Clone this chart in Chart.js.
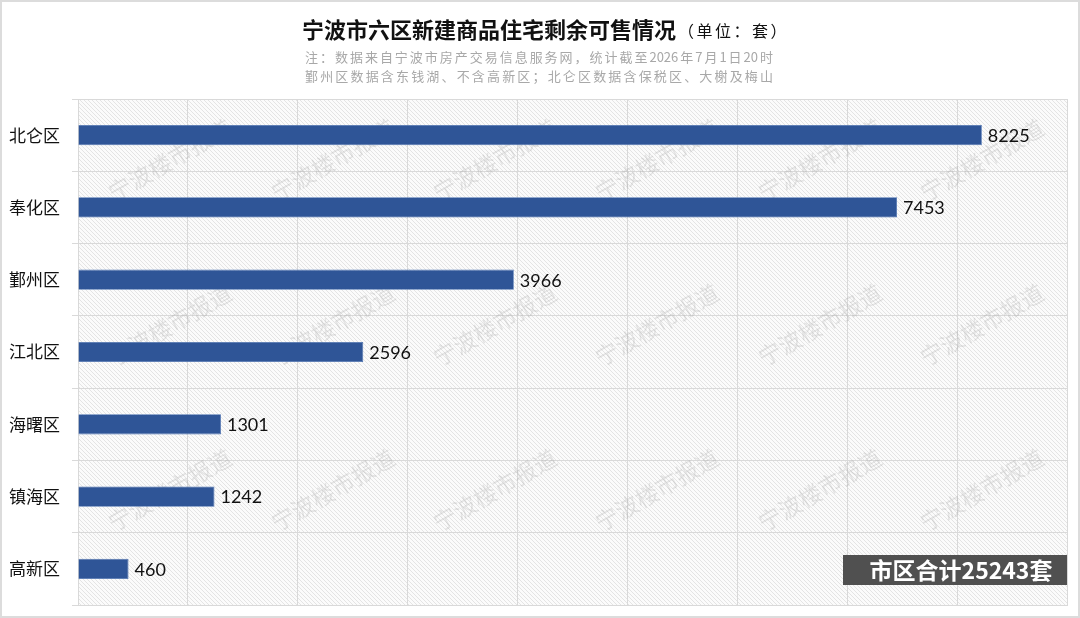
<!DOCTYPE html>
<html>
<head>
<meta charset="utf-8">
<script src="https://cdn.jsdelivr.net/npm/chart.js@4/dist/chart.umd.min.js"></script>
<style>
  html, body { margin: 0; padding: 0; background: #fff; }
  #wrap { position: relative; width: 1080px; height: 618px; }
  #chart { position: absolute; left: 0; top: 0; }
  .title { position: absolute; left: 302px; top: 12px; font-family: "Noto Sans CJK SC", sans-serif; font-weight: bold; font-size: 22px; color: #111; white-space: nowrap; }
  .title span { font-weight: normal; font-size: 16px; letter-spacing: 2.5px; margin-left: 2px; position: relative; top: -1px; }
  .note { position: absolute; left: 305px; width: 468px; font-family: "Noto Sans CJK SC", sans-serif; font-size: 13px; color: #a8a8a8; white-space: nowrap; text-align: justify; text-align-last: justify; text-justify: inter-character; }
</style>
</head>
<body>
<div id="wrap">
  <canvas id="chart" width="1080" height="618"></canvas>
  <div class="title">宁波市六区新建商品住宅剩余可售情况<span>（单位：套）</span></div>
  <div class="note" style="top:47px">注：数据来自宁波市房产交易信息服务网，统计截至2026年7月1日20时</div>
  <div class="note" style="top:66px">鄞州区数据含东钱湖、不含高新区；北仑区数据含保税区、大榭及梅山</div>
</div>
<script>
const districts = ['北仑区', '奉化区', '鄞州区', '江北区', '海曙区', '镇海区', '高新区'];
const unsold = [8225, 7453, 3966, 2596, 1301, 1242, 460];
const xMax = 9000;
const xStep = 1000;
const watermark = '宁波楼市报道';

function hatch() {
  const c = document.createElement('canvas');
  c.width = 4; c.height = 4;
  const g = c.getContext('2d');
  g.fillStyle = '#fbfbfb';
  g.fillRect(0, 0, 4, 4);
  g.strokeStyle = '#e4e4e4';
  g.lineWidth = 1;
  g.beginPath();
  g.moveTo(-1, -1); g.lineTo(5, 5);
  g.moveTo(-1, 3); g.lineTo(1, 5);
  g.moveTo(3, -1); g.lineTo(5, 1);
  g.stroke();
  return c;
}

const backdrop = {
  id: 'backdrop',
  beforeDraw(chart) {
    const { ctx, chartArea: a } = chart;
    ctx.save();
    ctx.fillStyle = '#fff';
    ctx.fillRect(0, 0, chart.width, chart.height);
    ctx.fillStyle = ctx.createPattern(hatch(), 'repeat');
    ctx.fillRect(a.left, a.top, a.right - a.left, a.bottom - a.top);
    ctx.restore();
  },
  beforeDatasetsDraw(chart) {
    const ctx = chart.ctx;
    ctx.save();
    ctx.font = '23px "Noto Sans CJK SC"';
    ctx.fillStyle = 'rgba(140,140,140,0.2)';
    ctx.textAlign = 'center';
    ctx.textBaseline = 'middle';
    [160, 325, 490].forEach(y => {
      [170, 333, 495, 657, 820, 982].forEach(x => {
        ctx.save();
        ctx.translate(x, y);
        ctx.rotate(-Math.PI / 6);
        ctx.fillText(watermark, 0, 0);
        ctx.restore();
      });
    });
    ctx.restore();
  },
  afterDatasetsDraw(chart) {
    const ctx = chart.ctx;
    const meta = chart.getDatasetMeta(0);
    ctx.save();
    ctx.font = '18px Lato, "Noto Sans"';
    ctx.fillStyle = '#111';
    ctx.textAlign = 'left';
    ctx.textBaseline = 'middle';
    meta.data.forEach((bar, i) => {
      ctx.fillText(unsold[i], bar.x + 6, bar.y + 1);
    });
    ctx.restore();
  },
  afterDraw(chart) {
    const ctx = chart.ctx;
    const total = unsold.reduce((s, v) => s + v, 0);
    ctx.save();
    ctx.fillStyle = '#505050';
    ctx.fillRect(843, 555, 224, 30);
    ctx.fillStyle = '#fff';
    ctx.font = 'bold 23px "Noto Sans CJK SC"';
    ctx.textAlign = 'center';
    ctx.textBaseline = 'middle';
    ctx.fillText('市区合计' + total + '套', 961, 570);
    ctx.strokeStyle = '#dcdcdc';
    ctx.lineWidth = 2;
    ctx.strokeRect(1, 1, chart.width - 2, chart.height - 2);
    ctx.restore();
  }
};

new Chart(document.getElementById('chart'), {
  type: 'bar',
  data: {
    labels: districts,
    datasets: [{
      data: unsold,
      backgroundColor: '#2F5597',
      borderColor: '#4a70b0',
      borderWidth: 0.8,
      barPercentage: 0.28,
      categoryPercentage: 1
    }]
  },
  options: {
    indexAxis: 'y',
    responsive: false,
    animation: false,
    layout: { padding: { top: 99, right: 13, bottom: 13, left: 0 } },
    plugins: { legend: { display: false }, tooltip: { enabled: false }, title: { display: false } },
    scales: {
      x: {
        min: 0,
        max: xMax,
        ticks: { display: false, stepSize: xStep },
        grid: { color: '#d9d9d9', drawTicks: false },
        border: { color: '#d9d9d9' },
        afterFit(s) { s.height = 0; }
      },
      y: {
        grid: { color: '#d9d9d9', offset: true, tickLength: 6 },
        border: { color: '#d9d9d9' },
        ticks: { color: '#111', padding: 12, font: { family: '"Noto Sans CJK SC"', size: 17 } },
        afterFit(s) { s.width = 78; s.paddingTop = 0; s.paddingBottom = 0; }
      }
    }
  },
  plugins: [backdrop]
});
</script>
</body>
</html>
